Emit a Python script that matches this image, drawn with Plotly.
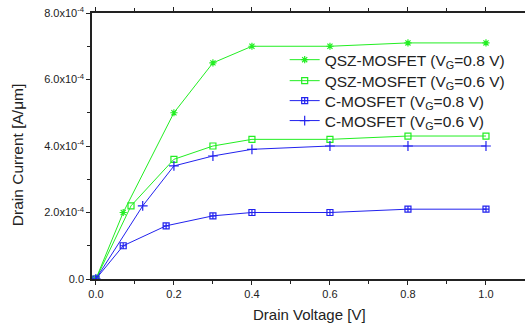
import plotly.graph_objects as go

x_qsz08 = [0, 0.07, 0.2, 0.3, 0.4, 0.6, 0.8, 1.0]
y_qsz08 = [0, 2.0e-4, 5.0e-4, 6.5e-4, 7.0e-4, 7.0e-4, 7.1e-4, 7.1e-4]
x_qsz06 = [0, 0.09, 0.2, 0.3, 0.4, 0.6, 0.8, 1.0]
y_qsz06 = [0, 2.2e-4, 3.6e-4, 4.0e-4, 4.2e-4, 4.2e-4, 4.3e-4, 4.3e-4]
x_c08 = [0, 0.07, 0.18, 0.3, 0.4, 0.6, 0.8, 1.0]
y_c08 = [0, 1.0e-4, 1.6e-4, 1.9e-4, 2.0e-4, 2.0e-4, 2.1e-4, 2.1e-4]
x_c06 = [0, 0.12, 0.2, 0.3, 0.4, 0.6, 0.8, 1.0]
y_c06 = [0, 2.2e-4, 3.4e-4, 3.7e-4, 3.9e-4, 4.0e-4, 4.0e-4, 4.0e-4]

names = ["QSZ-MOSFET (V<sub>G</sub>=0.8 V)", "QSZ-MOSFET (V<sub>G</sub>=0.6 V)",
         "C-MOSFET (V<sub>G</sub>=0.8 V)", "C-MOSFET (V<sub>G</sub>=0.6 V)"]
y_tickvals = [0, 2e-4, 4e-4, 6e-4, 8e-4]
y_ticktext = ["0.0", "2.0x10<sup>-4</sup>", "4.0x10<sup>-4</sup>", "6.0x10<sup>-4</sup>", "8.0x10<sup>-4</sup>"]
x_tickvals = [0.0, 0.2, 0.4, 0.6, 0.8, 1.0]
x_ticktext = ["0.0", "0.2", "0.4", "0.6", "0.8", "1.0"]
x_title = "Drain Voltage [V]"
y_title = "Drain Current [A/μm]"

GREEN = "#22ee22"
BLUE = "#2222ee"

fig = go.Figure()
specs = [
    (x_qsz08, y_qsz08, names[0], GREEN, "asterisk-open", 6),
    (x_qsz06, y_qsz06, names[1], GREEN, "square-open", 6),
    (x_c08, y_c08, names[2], BLUE, "square-cross-open", 6),
    (x_c06, y_c06, names[3], BLUE, "cross-thin-open", 7),
]
legend_ids = ["legend", "legend2", "legend3", "legend4"]
legend_y = [0.823, 0.744, 0.669, 0.594]
for (xs, ys, nm, col, sym, sz), lid in zip(specs, legend_ids):
    fig.add_trace(go.Scatter(
        x=xs, y=ys, name=nm, mode="lines+markers", legend=lid,
        line=dict(color=col, width=1),
        marker=dict(symbol=sym, size=sz, color=col, line=dict(color=col, width=1.2)),
    ))

leg_common = dict(xanchor="left", yanchor="middle", bgcolor="rgba(0,0,0,0)",
                  font=dict(size=15.5, color="#222"), borderwidth=0)
layout_legends = {lid: dict(x=0.445, y=ly, **leg_common) for lid, ly in zip(legend_ids, legend_y)}

fig.update_layout(
    width=525, height=326,
    margin=dict(l=92, r=0, t=13, b=47),
    paper_bgcolor="white", plot_bgcolor="white",
    font=dict(family="Liberation Sans, Arial, sans-serif", color="#222"),
    showlegend=True,
    annotations=[
        dict(text=x_title, xref="paper", yref="paper", x=0.503, y=-0.135,
             xanchor="center", yanchor="middle", showarrow=False,
             font=dict(size=15, color="#222")),
        dict(text=y_title, xref="paper", yref="paper", x=-0.173, y=0.466,
             xanchor="center", yanchor="middle", showarrow=False, textangle=-90,
             font=dict(size=15.5, color="#222")),
    ],
    **layout_legends,
)
fig.update_xaxes(
    range=[-0.01, 1.1], tickvals=x_tickvals, ticktext=x_ticktext,
    ticks="outside", ticklen=4, tickcolor="#222", showline=True, linecolor="#222",
    linewidth=1.5, mirror="ticks", showgrid=False, zeroline=False,
    tickfont=dict(size=11),
    minor=dict(tickvals=[0.1, 0.3, 0.5, 0.7, 0.9], ticks="outside", ticklen=3, tickcolor="#222"),
)
fig.update_yaxes(
    range=[0, 8e-4], tickvals=y_tickvals, ticktext=y_ticktext,
    ticks="outside", ticklen=4, tickcolor="#222", showline=True, linecolor="#222",
    linewidth=1.5, mirror=False, showgrid=False, zeroline=False,
    tickfont=dict(size=11),
    minor=dict(tickvals=[1e-4, 3e-4, 5e-4, 7e-4], ticks="outside", ticklen=3, tickcolor="#222"),
)
fig.write_html("out.html", config={"displayModeBar": False},
               post_script="document.body.style.margin='0';document.body.style.overflow='hidden';")
